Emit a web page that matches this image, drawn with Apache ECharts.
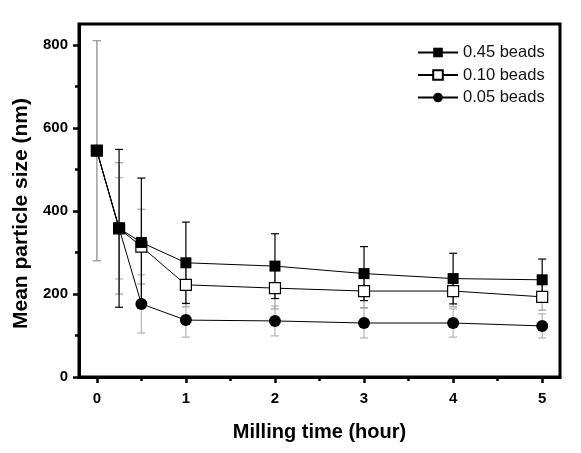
<!DOCTYPE html>
<html>
<head>
<meta charset="utf-8">
<script src="https://cdn.jsdelivr.net/npm/echarts@6/dist/echarts.min.js"></script>
<style>
html,body{margin:0;padding:0;background:#fff;}
#chart{width:581px;height:453px;}
</style>
</head>
<body>
<div id="chart"></div>
<script>
// ---- data ----
const times = [0, 0.25, 0.5, 1, 2, 3, 4, 5];
const size045 = [545, 358, 324, 275, 267, 249, 237, 234];
const err045  = [0, 190, 155, 98, 78, 65, 61, 50];
const size010 = [545, 358, 314, 222, 214, 207, 207, 193];
const err010  = [265, 158, 90, 53, 50, 40, 38, 32];
const size005 = [545, 358, 176, 137, 135, 130, 130, 123];
const err005  = [265, 122, 70, 41, 36, 36, 34, 29];
const xTickLabels = [0, 1, 2, 3, 4, 5];
const xMinorTicks = [0.5, 1.5, 2.5, 3.5, 4.5];
const yTickLabels = [0, 200, 400, 600, 800];
const yMinorTicks = [100, 300, 500, 700];
const seriesNames = ['0.45 beads', '0.10 beads', '0.05 beads'];

const FONT = 'Arial, "Liberation Sans", sans-serif';

function pts(ys) { return times.map((t, i) => [t, ys[i]]); }
function errPts(ys, es) { return times.map((t, i) => [t, ys[i], es[i]]); }

function errSeries(ys, es, color, z) {
  return {
    type: 'custom',
    z: z,
    silent: true,
    data: errPts(ys, es),
    renderItem: function (params, api) {
      const x = api.value(0), y = api.value(1), e = api.value(2);
      if (!e) return null;
      const top = api.coord([x, y + e]);
      const bot = api.coord([x, y - e]);
      const hw = 4;
      const style = { stroke: color, lineWidth: 1.2 };
      return {
        type: 'group',
        children: [
          { type: 'line', shape: { x1: top[0], y1: top[1], x2: bot[0], y2: bot[1] }, style: style },
          { type: 'line', shape: { x1: top[0] - hw, y1: top[1], x2: top[0] + hw, y2: top[1] }, style: style },
          { type: 'line', shape: { x1: bot[0] - hw, y1: bot[1], x2: bot[0] + hw, y2: bot[1] }, style: style }
        ]
      };
    }
  };
}

const axisLineStyle = { color: '#000', width: 3 };

const option = {
  animation: false,
  backgroundColor: '#fff',
  grid: {
    left: 79, top: 24, right: 21, bottom: 76,
    show: true, borderColor: '#000', borderWidth: 3, backgroundColor: 'transparent'
  },
  legend: {
    data: seriesNames,
    orient: 'vertical',
    left: 412, top: 39,
    itemWidth: 40, itemHeight: 12, itemGap: 5.5,
    textStyle: { fontSize: 16.5, lineHeight: 16, fontFamily: FONT, color: '#111' }
  },
  xAxis: [
    {
      type: 'value', min: -0.2, max: 5.2, position: 'bottom',
      axisLine: { show: true, onZero: false, lineStyle: axisLineStyle },
      axisTick: { show: true, inside: false, length: 6, customValues: xTickLabels, lineStyle: { color: '#000', width: 2.5 } },
      axisLabel: { customValues: xTickLabels, color: '#000', fontWeight: 'bold', fontSize: 15, fontFamily: FONT, margin: 14 },
      splitLine: { show: false },
      name: 'Milling time (hour)', nameLocation: 'middle', nameGap: 45,
      nameTextStyle: { fontWeight: 'bold', fontSize: 20, fontFamily: FONT, color: '#000' }
    },
    {
      type: 'value', min: -0.2, max: 5.2, position: 'bottom', offset: 0,
      axisLine: { show: false, onZero: false },
      axisTick: { show: true, inside: false, length: 4, customValues: xMinorTicks, lineStyle: { color: '#000', width: 2.5 } },
      axisLabel: { show: false },
      splitLine: { show: false }
    }
  ],
  yAxis: [
    {
      type: 'value', min: 0, max: 850, position: 'left',
      axisLine: { show: true, onZero: false, lineStyle: axisLineStyle },
      axisTick: { show: true, inside: false, length: 6, customValues: yTickLabels, lineStyle: { color: '#000', width: 2.5 } },
      axisLabel: { customValues: yTickLabels, color: '#000', fontWeight: 'bold', fontSize: 15, fontFamily: FONT, margin: 11 },
      splitLine: { show: false },
      name: 'Mean particle size (nm)', nameLocation: 'middle', nameGap: 46,
      nameTextStyle: { fontWeight: 'bold', fontSize: 21, fontFamily: FONT, color: '#000', padding: [0, 26, 0, 0] }
    },
    {
      type: 'value', min: 0, max: 850, position: 'left', offset: 0,
      axisLine: { show: false, onZero: false },
      axisTick: { show: true, inside: false, length: 4, customValues: yMinorTicks, lineStyle: { color: '#000', width: 2.5 } },
      axisLabel: { show: false },
      splitLine: { show: false }
    }
  ],
  series: [
    errSeries(size005, err005, '#b4b4b4', 1),
    errSeries(size010, err010, '#a0a0a0', 1),
    errSeries(size045, err045, '#000', 2),
    {
      name: seriesNames[2], type: 'line', data: pts(size005), z: 3,
      symbol: 'circle', symbolSize: 12,
      lineStyle: { color: '#000', width: 1 },
      itemStyle: { color: '#000', borderColor: '#000', borderWidth: 0 }
    },
    {
      name: seriesNames[1], type: 'line', data: pts(size010), z: 4,
      symbol: 'rect', symbolSize: 11,
      lineStyle: { color: '#000', width: 1 },
      itemStyle: { color: '#fff', borderColor: '#000', borderWidth: 1.2 }
    },
    {
      name: seriesNames[0], type: 'line', data: pts(size045), z: 5,
      symbol: 'rect', symbolSize: 11,
      lineStyle: { color: '#000', width: 1 },
      itemStyle: { color: '#000', borderColor: '#000', borderWidth: 0 }
    }
  ]
};

const chart = echarts.init(document.getElementById('chart'), null, { renderer: 'canvas' });
chart.setOption(option);
</script>
</body>
</html>
